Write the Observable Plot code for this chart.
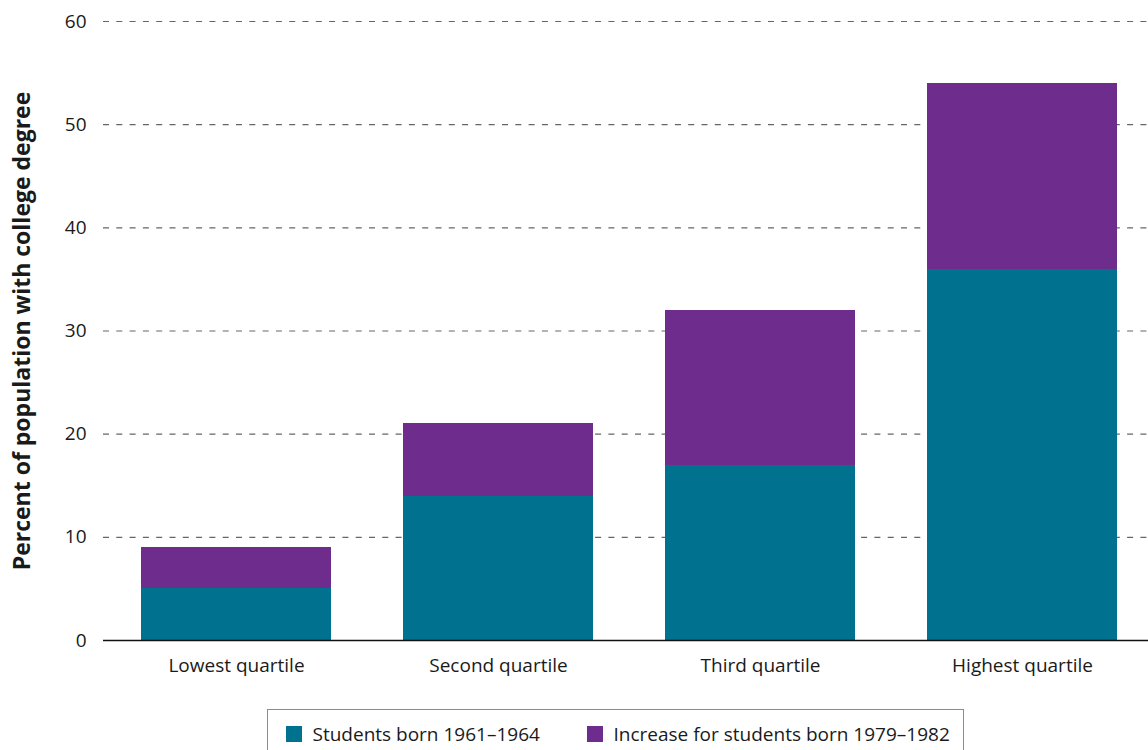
<!DOCTYPE html>
<html>
<head>
<meta charset="utf-8">
<script src="https://cdn.jsdelivr.net/npm/d3@7"></script>
<script src="https://cdn.jsdelivr.net/npm/@observablehq/plot@0.6"></script>
<style>
  html, body { margin: 0; padding: 0; background: #fff; overflow: hidden; }
  body { width: 1148px; height: 750px; position: relative; font-family: "Open Sans", sans-serif; }
  #legend {
    position: absolute; left: 267px; top: 709px; width: 697px; height: 60px;
    border: 1.5px solid #8c8c8c; box-sizing: border-box;
  }
  .item { position: absolute; top: 16px; height: 16px; display: flex; align-items: center; font-size: 19px; color: #1a1a1a; white-space: nowrap; }
  .sw { width: 16px; height: 16px; margin-right: 11px; flex: none; }
</style>
</head>
<body>
<div id="chart"></div>
<div id="legend"></div>
<script>
const quartiles = ["Lowest quartile", "Second quartile", "Third quartile", "Highest quartile"];
const born1961 = [5, 14, 17, 36];
const increase1979 = [4, 7, 15, 18];
const seriesNames = ["Students born 1961–1964", "Increase for students born 1979–1982"];
const seriesColors = ["#00728f", "#6e2c8c"];
const yTicks = [0, 10, 20, 30, 40, 50, 60];
const yLabel = "Percent of population with college degree";

const rows = [];
quartiles.forEach((q, i) => {
  rows.push({quartile: q, series: seriesNames[0], value: born1961[i]});
  rows.push({quartile: q, series: seriesNames[1], value: increase1979[i]});
});

const chart = Plot.plot({
  width: 1148,
  height: 700,
  marginTop: 21,
  marginBottom: 60,
  marginLeft: 103,
  marginRight: 0,
  style: {fontFamily: "Open Sans", fontSize: "19px", color: "#1a1a1a", background: "#fff"},
  x: {domain: quartiles, range: [103, 1155], paddingInner: 0.2767, paddingOuter: 0.1409},
  y: {domain: [0, 60]},
  color: {domain: seriesNames, range: seriesColors},
  marks: [
    Plot.ruleY(yTicks.filter(d => d > 0), {stroke: "#666", strokeWidth: 1.2, strokeDasharray: "6,7.3"}),
    Plot.barY(rows, Plot.stackY({x: "quartile", y: "value", fill: "series", order: seriesNames, shapeRendering: "crispEdges"})),
    Plot.ruleY([0], {stroke: "#111", strokeWidth: 1.3}),
    Plot.axisX({tickSize: 0, tickPadding: 18, label: null, fontSize: 19}),
    Plot.axisY({ticks: yTicks, tickSize: 0, tickPadding: 17, fontSize: 19,
      label: yLabel, labelAnchor: "center", labelArrow: "none", labelOffset: 90}),
  ]
});
document.getElementById("chart").appendChild(chart);
chart.querySelectorAll("text").forEach(t => {
  if (t.textContent === yLabel) { t.style.fontWeight = "bold"; t.style.fontSize = "23px"; }
});

const legend = document.getElementById("legend");
const lefts = [17.5, 318.5];
seriesNames.forEach((name, i) => {
  const it = document.createElement("div");
  it.className = "item";
  it.style.left = lefts[i] + "px";
  const sw = document.createElement("span");
  sw.className = "sw";
  sw.style.background = seriesColors[i];
  const tx = document.createElement("span");
  tx.textContent = name;
  it.appendChild(sw); it.appendChild(tx);
  legend.appendChild(it);
});
</script>
</body>
</html>
